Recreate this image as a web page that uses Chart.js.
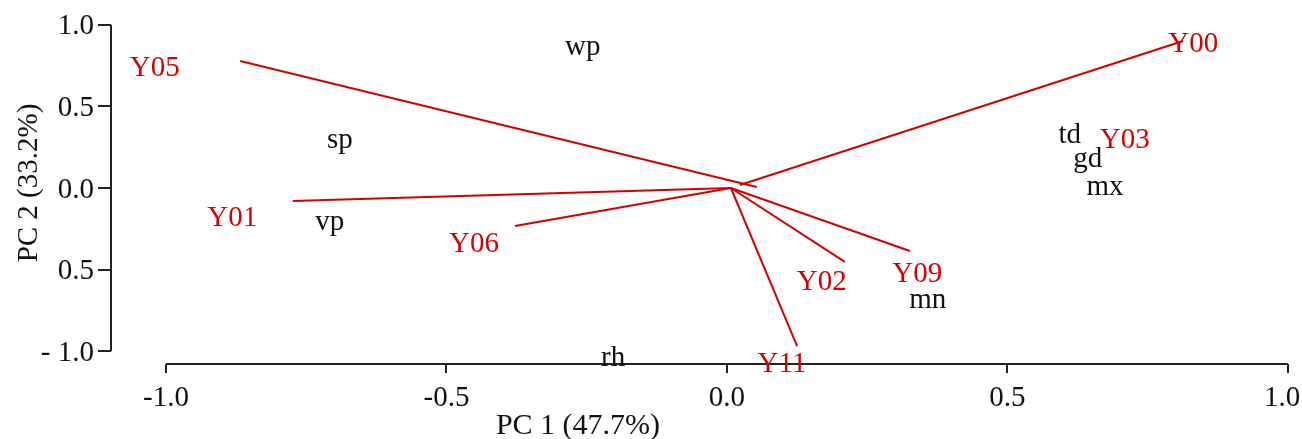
<!DOCTYPE html>
<html>
<head>
<meta charset="utf-8">
<script src="https://cdn.jsdelivr.net/npm/chart.js@4.4.1/dist/chart.umd.min.js"></script>
<style>
  html, body { margin: 0; padding: 0; background: #fff; }
  #wrap { width: 1302px; height: 439px; }
</style>
</head>
<body>
<div id="wrap"><canvas id="biplot"></canvas></div>
<script>
// vectors (red segments)
const vecNames = ["Y05", "Y00", "Y01", "Y06", "Y02", "Y09", "Y11"];
const vecFromX = [-0.868, 0.023, 0.007, 0.007, 0.007, 0.007, 0.007];
const vecFromY = [0.778, 0.018, 0.0, 0.0, 0.0, 0.0, 0.0];
const vecToX = [0.053, 0.813, -0.774, -0.378, 0.210, 0.326, 0.125];
const vecToY = [0.006, 0.900, -0.080, -0.233, -0.453, -0.386, -0.968];

// red labels
const siteNames = ["Y05", "Y00", "Y03", "Y01", "Y06", "Y02", "Y09", "Y11"];
const siteX = [-1.020, 0.831, 0.709, -0.882, -0.451, 0.169, 0.339, 0.098];
const siteY = [0.747, 0.894, 0.306, -0.172, -0.331, -0.564, -0.515, -1.066];

// black labels
const varNames = ["wp", "sp", "vp", "td", "gd", "mx", "mn", "rh"];
const varX = [-0.257, -0.690, -0.708, 0.611, 0.643, 0.674, 0.358, -0.203];
const varY = [0.876, 0.306, -0.196, 0.337, 0.190, 0.018, -0.674, -1.029];

// axes
const xTicks = [-1.0, -0.5, 0.0, 0.5, 1.0];
const xTickLabels = ["-1.0", "-0.5", "0.0", "0.5", "1.0"];
const yTicks = [1.0, 0.5, 0.0, -0.5, -1.0];
const yTickLabels = ["1.0", "0.5", "0.0", "0.5", "- 1.0"];
const xTitle = "PC 1 (47.7%)";
const yTitle = "PC 2 (33.2%)";

const RED = "#d40000";
const FONT = "'Liberation Serif', 'Times New Roman', serif";

const datasets = vecNames.map((name, i) => ({
  label: name,
  data: [{ x: vecFromX[i], y: vecFromY[i] }, { x: vecToX[i], y: vecToY[i] }],
  showLine: true,
  borderColor: RED,
  borderWidth: 2,
  pointRadius: 0,
  fill: false,
}));

const biplotDecor = {
  id: "biplotDecor",
  afterDatasetsDraw(chart) {
    const ctx = chart.ctx;
    const xs = chart.scales.x, ys = chart.scales.y;
    ctx.save();

    // y axis (left, detached)
    const axX = Math.round(xs.getPixelForValue(-1.098));
    ctx.strokeStyle = "#222";
    ctx.lineWidth = 2;
    ctx.beginPath();
    ctx.moveTo(axX, ys.getPixelForValue(yTicks[0]));
    ctx.lineTo(axX, ys.getPixelForValue(yTicks[yTicks.length - 1]));
    yTicks.forEach(v => {
      const py = Math.round(ys.getPixelForValue(v));
      ctx.moveTo(axX, py);
      ctx.lineTo(axX - 13, py);
    });
    ctx.stroke();

    ctx.fillStyle = "#111";
    ctx.font = "29px " + FONT;
    ctx.textAlign = "right";
    ctx.textBaseline = "middle";
    yTicks.forEach((v, i) => {
      ctx.fillText(yTickLabels[i], axX - 17, ys.getPixelForValue(v) + 2);
    });

    // x axis (bottom, detached)
    const axY = Math.round(ys.getPixelForValue(-1.078));
    ctx.beginPath();
    ctx.moveTo(xs.getPixelForValue(xTicks[0]), axY);
    ctx.lineTo(xs.getPixelForValue(xTicks[xTicks.length - 1]), axY);
    xTicks.forEach(v => {
      const px = Math.round(xs.getPixelForValue(v));
      ctx.moveTo(px, axY);
      ctx.lineTo(px, axY + 9);
    });
    ctx.stroke();

    ctx.textAlign = "center";
    xTicks.forEach((v, i) => {
      let px = xs.getPixelForValue(v);
      px = Math.min(px, chart.width - 20);
      ctx.fillText(xTickLabels[i], px, axY + 34);
    });

    // titles
    ctx.font = "30px " + FONT;
    ctx.fillText(xTitle, 578, 426);
    ctx.save();
    ctx.translate(29, 183);
    ctx.rotate(-Math.PI / 2);
    ctx.font = "29px " + FONT;
    ctx.fillText(yTitle, 0, 0);
    ctx.restore();

    // point labels
    ctx.font = "29px " + FONT;
    ctx.fillStyle = "#111";
    varNames.forEach((t, i) => {
      ctx.fillText(t, xs.getPixelForValue(varX[i]), ys.getPixelForValue(varY[i]) + 2);
    });
    ctx.fillStyle = RED;
    siteNames.forEach((t, i) => {
      ctx.fillText(t, xs.getPixelForValue(siteX[i]), ys.getPixelForValue(siteY[i]) + 2);
    });

    ctx.restore();
  }
};

new Chart(document.getElementById("biplot").getContext("2d"), {
  type: "scatter",
  data: { datasets },
  options: {
    responsive: true,
    maintainAspectRatio: false,
    animation: false,
    layout: { padding: 0 },
    plugins: { legend: { display: false }, tooltip: { enabled: false } },
    scales: {
      x: { type: "linear", display: false, min: -1.2959, max: 1.0250 },
      y: { type: "linear", display: false, min: -1.5375, max: 1.1516 },
    },
  },
  plugins: [biplotDecor],
});
</script>
</body>
</html>
